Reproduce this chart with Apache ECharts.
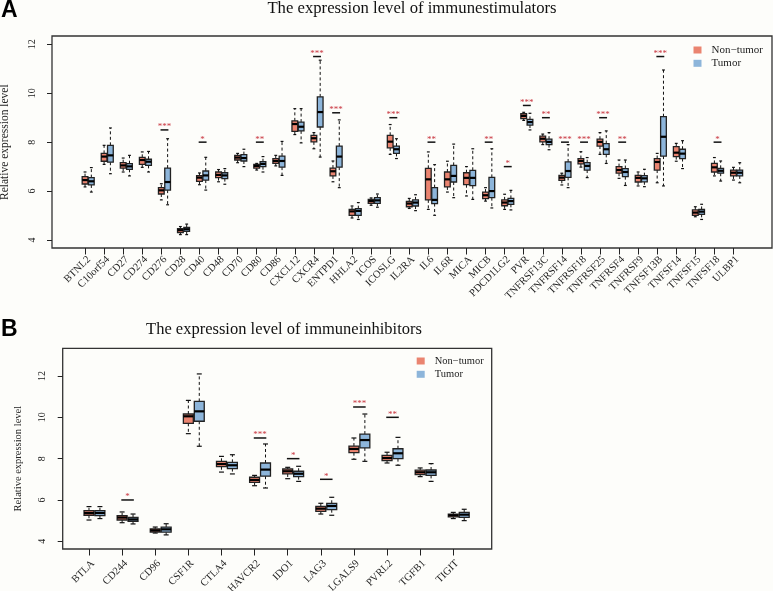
<!DOCTYPE html>
<html><head><meta charset="utf-8">
<script src="https://cdn.jsdelivr.net/npm/echarts@6/dist/echarts.min.js"></script>
<style>html,body{margin:0;padding:0;background:#fdfdfa}#c{width:773px;height:591px}</style>
</head><body><div id="c"></div>
<script>
// ---------- Panel A: immunestimulators ----------
const catsA = ['BTNL2','C10orf54','CD27','CD274','CD276','CD28','CD40','CD48','CD70','CD80','CD86','CXCL12','CXCR4','ENTPD1','HHLA2','ICOS','ICOSLG','IL2RA','IL6','IL6R','MICA','MICB','PDCD1LG2','PVR','TNFRSF13C','TNFRSF14','TNFRSF18','TNFRSF25','TNFRSF4','TNFRSF9','TNFSF13B','TNFSF14','TNFSF15','TNFSF18','ULBP1'];
// [min, Q1, median, Q3, max]
const nonTumorA = [
  [6.17,6.29,6.45,6.59,6.78],[7.09,7.22,7.41,7.54,7.87],[6.78,6.94,7.05,7.16,7.35],[6.97,7.09,7.27,7.38,7.60],
  [5.64,5.88,6.03,6.14,6.30],[4.22,4.30,4.40,4.46,4.55],[6.26,6.40,6.55,6.63,6.74],[6.38,6.55,6.66,6.78,6.88],
  [7.16,7.27,7.37,7.46,7.54],[6.86,6.94,7.03,7.09,7.13],[7.03,7.13,7.23,7.33,7.46],[8.31,8.44,8.74,8.87,9.37],
  [7.73,8.01,8.16,8.28,8.39],[6.38,6.62,6.81,6.94,7.23],[4.90,5.01,5.17,5.25,5.39],[5.42,5.50,5.59,5.66,5.72],
  [7.50,7.77,8.02,8.28,8.72],[5.29,5.36,5.49,5.58,5.70],[5.25,5.64,6.48,6.93,7.60],[5.96,6.17,6.48,6.78,7.22],
  [5.80,6.26,6.54,6.75,7.00],[5.59,5.69,5.83,5.96,6.14],[5.25,5.40,5.53,5.64,5.87],[8.89,8.96,9.07,9.16,9.22],
  [7.90,8.01,8.14,8.25,8.33],[6.25,6.44,6.55,6.64,6.73],[6.98,7.11,7.23,7.33,7.61],[7.50,7.84,8.01,8.12,8.39],
  [6.52,6.73,6.86,7.00,7.27],[6.21,6.37,6.54,6.64,6.78],[6.34,6.86,7.19,7.33,7.54],[7.22,7.41,7.57,7.82,7.95],
  [4.95,5.01,5.12,5.23,5.36],[6.62,6.78,6.97,7.13,7.37],[6.45,6.62,6.75,6.86,6.97]
];
const tumorA = [
  [5.96,6.25,6.40,6.55,6.96],[6.71,7.18,7.46,7.87,8.58],[6.62,6.89,7.01,7.12,7.46],[6.78,7.05,7.20,7.30,7.62],
  [5.44,6.04,6.37,6.94,8.14],[4.22,4.35,4.44,4.52,4.65],[6.04,6.45,6.64,6.82,7.38],[6.28,6.51,6.64,6.75,6.92],
  [7.00,7.23,7.35,7.49,7.71],[6.78,7.00,7.11,7.20,7.41],[6.64,6.98,7.23,7.43,8.03],[7.97,8.46,8.63,8.82,9.37],
  [7.39,8.62,9.23,9.85,11.35],[6.14,6.98,7.41,7.84,8.91],[4.84,5.01,5.19,5.28,5.53],[5.34,5.50,5.62,5.73,5.88],
  [7.33,7.54,7.71,7.84,8.14],[5.20,5.39,5.53,5.64,5.85],[5.01,5.49,5.64,6.14,7.08],[5.73,6.37,6.62,7.05,7.92],
  [5.66,6.22,6.54,6.85,7.73],[5.31,5.73,6.00,6.56,7.73],[5.23,5.46,5.59,5.70,6.03],[8.50,8.70,8.82,8.93,9.18],
  [7.69,7.90,8.01,8.12,8.39],[6.14,6.56,6.82,7.19,7.90],[6.55,6.86,7.03,7.16,7.37],[7.13,7.50,7.71,7.94,8.46],
  [6.23,6.59,6.78,6.92,7.27],[6.18,6.38,6.52,6.63,6.89],[6.21,7.43,8.22,9.04,10.95],[6.92,7.33,7.53,7.71,8.06],
  [4.84,5.05,5.16,5.25,5.46],[6.41,6.73,6.83,6.93,7.23],[6.34,6.62,6.75,6.86,7.16]
];
const sigCatsA = ['CD276','CD40','CD80','CXCR4','ENTPD1','ICOSLG','IL6','MICB','PDCD1LG2','PVR','TNFRSF13C','TNFRSF14','TNFRSF18','TNFRSF25','TNFRSF4','TNFSF13B','TNFSF18'];
const sigYA = [8.5,8,8,11.5,9.2,9,8,8,7,9.5,9,8,8,9,8,11.5,8];
const sigLabelsA = ['***','*','**','***','***','***','**','**','*','***','**','***','***','***','**','***','*'];

// ---------- Panel B: immuneinhibitors ----------
const catsB = ['BTLA','CD244','CD96','CSF1R','CTLA4','HAVCR2','IDO1','LAG3','LGALS9','PVRL2','TGFB1','TIGIT'];
const nonTumorB = [
  [5.03,5.26,5.37,5.48,5.68],[4.90,5.03,5.15,5.24,5.42],[4.40,4.45,4.53,4.60,4.69],[9.21,9.71,10.05,10.16,10.82],
  [7.35,7.61,7.74,7.87,8.11],[6.69,6.85,6.97,7.10,7.19],[7.03,7.26,7.39,7.50,7.58],[5.32,5.45,5.58,5.69,5.84],
  [7.97,8.29,8.47,8.61,9.00],[7.79,7.90,8.03,8.16,8.31],[7.13,7.23,7.34,7.44,7.55],[5.10,5.18,5.26,5.32,5.40]
];
const tumorB = [
  [5.10,5.24,5.37,5.48,5.68],[4.84,4.97,5.06,5.16,5.32],[4.31,4.44,4.58,4.69,4.85],[8.60,9.81,10.29,10.77,12.10],
  [7.26,7.52,7.68,7.82,8.19],[6.58,7.15,7.47,7.79,8.71],[6.90,7.13,7.27,7.39,7.63],[5.26,5.53,5.71,5.84,6.13],
  [7.87,8.52,8.90,9.19,10.16],[7.68,8.00,8.26,8.48,9.03],[6.90,7.19,7.34,7.45,7.76],[5.00,5.16,5.29,5.40,5.55]
];
const sigCatsB = ['CD244','HAVCR2','IDO1','LAG3','LGALS9','PVRL2'];
const sigYB = [6,9,8,7,10.5,10];
const sigLabelsB = ['*','***','*','*','***','**'];

const groupNames = ['Non\u2212tumor','Tumor'];
const colN = '#EA8470', colT = '#8DB5DA';
const serif = 'Liberation Serif';

function boxRender(offsetFrac, color) {
  return function (params, api) {
    const i = api.value(0);
    const bw = api.size([1, 0])[0];
    const x = api.coord([i, api.value(3)])[0] + offsetFrac * bw;
    const w = bw * 0.3, cw = w * 0.5;
    const y = k => api.coord([i, api.value(k)])[1];
    const yMin = y(1), yQ1 = y(2), yMed = y(3), yQ3 = y(4), yMax = y(5);
    const wl = {stroke: '#111', lineWidth: 1, lineDash: [3, 2.5]};
    const cap = {stroke: '#111', lineWidth: 1.2};
    return {type: 'group', children: [
      {type: 'line', shape: {x1: x, y1: yQ3, x2: x, y2: yMax}, style: wl},
      {type: 'line', shape: {x1: x, y1: yQ1, x2: x, y2: yMin}, style: wl},
      {type: 'line', shape: {x1: x - cw / 2, y1: yMax, x2: x + cw / 2, y2: yMax}, style: cap},
      {type: 'line', shape: {x1: x - cw / 2, y1: yMin, x2: x + cw / 2, y2: yMin}, style: cap},
      {type: 'rect', shape: {x: x - w / 2, y: yQ3, width: w, height: yQ1 - yQ3}, style: {fill: color, stroke: '#222', lineWidth: 1.3}},
      {type: 'line', shape: {x1: x - w / 2, y1: yMed, x2: x + w / 2, y2: yMed}, style: {stroke: '#000', lineWidth: 2.2}}
    ]};
  };
}
function sigRender(labels) {
  return function (params, api) {
    const i = api.value(0);
    const bw = api.size([1, 0])[0];
    const p = api.coord([i, api.value(1)]);
    const x1 = p[0] - 0.8, x2 = p[0] + 0.33 * bw + 0.8;
    return {type: 'group', children: [
      {type: 'line', shape: {x1: x1, y1: p[1], x2: x2, y2: p[1]}, style: {stroke: '#111', lineWidth: 1.5}},
      {type: 'text', style: {text: labels[params.dataIndex], x: (x1 + x2) / 2, y: p[1] - 3, align: 'center', verticalAlign: 'middle', fill: '#c8323c', fontSize: 9, fontFamily: serif}}
    ]};
  };
}
function boxSeries(name, vals, xi, off, color) {
  return {type: 'custom', name: name, xAxisIndex: xi, yAxisIndex: xi, data: vals.map((v, i) => [i].concat(v)),
    encode: {x: 0, y: [1, 2, 3, 4, 5]}, renderItem: boxRender(off, color), itemStyle: {color: color}, silent: true};
}
function sigSeries(cats, sc, sy, sl, xi) {
  return {type: 'custom', name: 'sig' + xi, xAxisIndex: xi, yAxisIndex: xi, data: sc.map((c, k) => [cats.indexOf(c), sy[k]]),
    encode: {x: 0, y: 1}, renderItem: sigRender(sl), silent: true};
}
function xAx(gi, cats, offset, margin) {
  return {gridIndex: gi, type: 'category', data: cats, boundaryGap: true, offset: offset,
    axisLine: {show: false}, axisTick: {show: true, alignWithLabel: true, length: 6.5, lineStyle: {color: '#222', width: 1}},
    axisLabel: {interval: 0, rotate: 45, margin: margin, verticalAlign: 'top', fontFamily: serif, fontSize: 10.5, color: '#222'},
    splitLine: {show: false}};
}
function yAx(gi, offset, nameGap, nameSize) {
  return {gridIndex: gi, type: 'value', min: 4, max: 12, interval: 2, offset: offset,
    name: 'Relative expression level', nameLocation: 'middle', nameGap: nameGap,
    nameTextStyle: {fontFamily: serif, fontSize: nameSize, color: '#222'},
    axisLine: {show: false}, axisTick: {show: true, length: 5, lineStyle: {color: '#222'}},
    axisLabel: {rotate: 90, margin: 15, fontFamily: serif, fontSize: 10, color: '#222'},
    splitLine: {show: false}};
}
function legend(left, top, size) {
  return {orient: 'vertical', left: left, top: top, padding: 0, itemWidth: 8, itemHeight: 7, itemGap: 1.3, icon: 'rect',
    selectedMode: false, data: groupNames, textStyle: {fontFamily: serif, fontSize: size, color: '#222', lineHeight: 12, padding: [0, 0, 0, 5]}};
}
const titleStyle = (s) => ({fontFamily: serif, fontSize: s, fontWeight: 'normal', color: '#111'});
const letterStyle = {fontFamily: 'Liberation Sans', fontWeight: 'bold', fontSize: 23, color: '#000'};

const chart = echarts.init(document.getElementById('c'), null, {renderer: 'canvas'});
chart.setOption({
  backgroundColor: '#fdfdfa',
  animation: false,
  title: [
    {text: 'A', left: 1, top: -1, padding: 0, textStyle: letterStyle},
    {text: 'The expression level of immunestimulators', left: 412, top: 0, textAlign: 'center', padding: 0, textStyle: titleStyle(16.7)},
    {text: 'B', left: 1, top: 318, padding: 0, textStyle: letterStyle},
    {text: 'The expression level of immuneinhibitors', left: 284, top: 321, textAlign: 'center', padding: 0, textStyle: titleStyle(16.5)}
  ],
  legend: [legend(693.5, 44, 11), legend(416.7, 355, 10.5)],
  grid: [
    {left: 75.5, top: 44.3, width: 667.5, height: 195.7, containLabel: false, outerBoundsMode: 'none'},
    {left: 72.44, top: 376, width: 397.4, height: 165.3, containLabel: false, outerBoundsMode: 'none'}
  ],
  xAxis: [xAx(0, catsA, 8, 6), xAx(1, catsB, 7.7, 9)],
  yAxis: [yAx(0, 23.5, 41.5, 11.5), yAx(1, 9.74, 39.2, 10.5)],
  graphic: [
    {type: 'rect', silent: true, shape: {x: 52, y: 36, width: 720, height: 212}, style: {fill: 'none', stroke: '#333', lineWidth: 1.3}},
    {type: 'rect', silent: true, shape: {x: 62.7, y: 348.3, width: 429, height: 200.7}, style: {fill: 'none', stroke: '#333', lineWidth: 1.3}}
  ],
  series: [
    boxSeries(groupNames[0], nonTumorA, 0, 0, colN),
    boxSeries(groupNames[1], tumorA, 0, 0.33, colT),
    sigSeries(catsA, sigCatsA, sigYA, sigLabelsA, 0),
    boxSeries(groupNames[0], nonTumorB, 1, 0, colN),
    boxSeries(groupNames[1], tumorB, 1, 0.33, colT),
    sigSeries(catsB, sigCatsB, sigYB, sigLabelsB, 1)
  ]
});
</script></body></html>
